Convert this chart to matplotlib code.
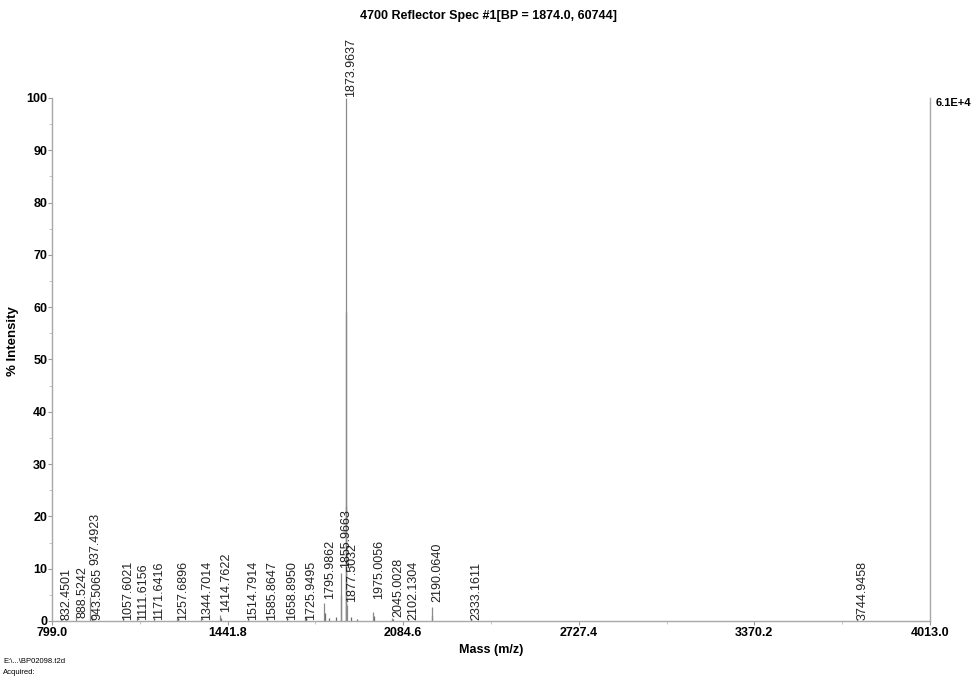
import matplotlib
matplotlib.use("Agg")
import matplotlib.pyplot as plt

plt.rcParams["font.family"] = ["Liberation Sans", "DejaVu Sans"]

# labelled peaks (m/z, % intensity)
peak_mz = [832.4501, 888.5242, 937.4923, 943.5065, 1057.6021, 1111.6156,
           1171.6416, 1257.6896, 1344.7014, 1414.7622, 1514.7914, 1585.8647,
           1658.8950, 1725.9495, 1795.9862, 1855.9663, 1873.9637, 1877.5032,
           1975.0056, 2045.0028, 2102.1304, 2190.0640, 2333.1611, 3744.9458]
peak_int = [0.6, 1.0, 4.5, 1.0, 0.5, 0.5,
            0.4, 0.6, 0.5, 1.2, 0.4, 0.5,
            0.5, 0.8, 3.5, 9.2, 100.0, 3.0,
            1.8, 0.6, 0.4, 2.6, 0.4, 0.3]

# unlabelled small peaks / isotopes
minor_mz = [1874.967, 1875.970, 1856.970, 1796.990, 1726.950, 1812.0,
            1838.0, 1893.0, 1916.0, 1976.0, 2046.0, 2191.07, 1258.7, 1415.8]
minor_int = [59.0, 22.0, 5.0, 1.5, 0.5, 0.6,
             0.8, 0.7, 0.4, 0.9, 0.4, 1.2, 0.3, 0.5]

# where each label starts (% units), the instrument stacks crowded ones
label_base = [0.0, 0.4, 10.6, 0.0, 0.0, 0.0,
              0.0, 0.0, 0.0, 1.5, 0.0, 0.0,
              0.0, 0.0, 4.0, 10.0, 100.0, 3.5,
              4.0, 0.7, 0.0, 3.4, 0.0, 0.0]

x_ticks = [799.0, 1441.8, 2084.6, 2727.4, 3370.2, 4013.0]
y_ticks = [0, 10, 20, 30, 40, 50, 60, 70, 80, 90, 100]

fig = plt.figure(figsize=(9.78, 6.8), dpi=100)
ax = fig.add_axes([0.0532, 0.0868, 0.8977, 0.7692])

ax.vlines(minor_mz, 0, minor_int, color="#6a6a6a", lw=0.9)
ax.vlines(peak_mz, 0, peak_int, color="#8a8a8a", lw=0.9)

for mz, base in zip(peak_mz, label_base):
    ax.annotate(f"{mz:.4f}", xy=(mz, base), xytext=(4, 0.5),
                textcoords="offset points", rotation=90, ha="center",
                va="bottom", fontsize=9, color="#222222")

ax.set_xlim(799.0, 4013.0)
ax.set_ylim(0, 100)
ax.set_xticks(x_ticks)
ax.set_xticklabels([f"{v:.1f}" for v in x_ticks])
ax.set_xticks([(a + b) / 2 for a, b in zip(x_ticks[:-1], x_ticks[1:])], minor=True)
ax.set_yticks(y_ticks)
ax.set_yticks([v + 5 for v in y_ticks[:-1]], minor=True)

for lab in ax.get_xticklabels() + ax.get_yticklabels():
    lab.set_fontweight("bold")
    lab.set_fontsize(9)

ax.tick_params(which="major", length=3, width=0.8, color="#999999")
ax.tick_params(axis="x", which="major", pad=1)
ax.tick_params(axis="y", which="major", pad=0.5)
ax.tick_params(which="minor", length=2, width=0.6, color="#bbbbbb")

ax.spines["top"].set_visible(False)
for s in ["left", "bottom", "right"]:
    ax.spines[s].set_color("#a8a8a8")
    ax.spines[s].set_linewidth(1.0)

ax.set_xlabel("Mass (m/z)", fontsize=9, fontweight="bold", labelpad=4)

fig.text(0.0135, 0.4985, "% Intensity", rotation=90, ha="center",
         va="center", fontsize=9.5, fontweight="bold")
fig.text(0.499, 0.976, "4700 Reflector Spec #1[BP = 1874.0, 60744]",
         ha="center", va="center", fontsize=9, fontweight="bold")
fig.text(0.957, 0.848, "6.1E+4", ha="left", va="center", fontsize=8,
         fontweight="bold")
fig.text(0.003, 0.027, "E:\\...\\BP02098.t2d", fontsize=5.5, va="center")
fig.text(0.003, 0.011, "Acquired:", fontsize=5.5, va="center")

fig.savefig("out.png", dpi=100)
